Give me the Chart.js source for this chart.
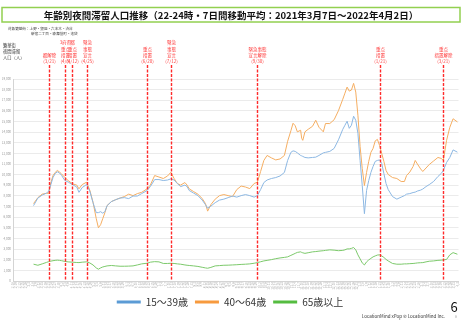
<!DOCTYPE html>
<html lang="ja">
  <head>
    <title>年齢別夜間滞留人口推移</title>
    <meta charset="utf-8">
    <script type="text/javascript" src="https://cdn.jsdelivr.net/npm/chart.js@4/dist/chart.umd.min.js"></script>
    <style>
      html, body { margin: 0; padding: 0; background: #fff; }
    </style>
  </head>
  <body>
    <canvas id="chart_pop" width="462" height="320"></canvas>

    <script type="text/javascript">

      // day 0 = 2021-03-07 (first 7-day moving average)
      const startDate = new Date(2021, 2, 7);

      const days = [
        0,4,8,12,14,16,18,20,22,24,
        26,29,32,36,40,42,45,49,52,55,
        58,60,62,64,66,68,72,76,80,84,
        88,92,96,100,105,108,112,116,120,124,
        127,130,133,136,140,142,144,148,152,156,
        159,161,164,168,172,176,180,184,188,192,
        196,200,204,207,210,213,216,220,224,228,
        232,235,238,240,242,244,247,248,249,251,
        254,258,261,264,268,270,274,278,282,286,
        288,290,292,294,296,298,300,302,304,306,
        308,310,312,314,316,318,320,322,324,326,
        328,332,336,340,343,345,348,351,353,355,
        358,360,363,366,370,374,377,379,382,385,
        388,392
      ];

      const age15to39 = [
        7090,7800,8080,8270,8440,9070,9730,10110,10270,10160,
        9920,9450,9310,9070,8840,8340,8790,9070,8460,7370,
        6430,6430,6520,6380,6520,7090,7470,7650,7800,7840,
        7750,7990,7990,8220,8510,8880,9540,9540,9450,9500,
        9610,9500,9170,8880,9020,8880,8510,8270,8030,7610,
        7180,6850,7040,7370,7610,7700,7840,7990,7890,8030,
        8130,8030,7890,8030,8600,9260,9500,9640,9730,9880,
        10210,11340,12100,12240,12190,12050,11810,11770,11720,11620,
        11580,11620,11650,11810,12050,12100,12190,12470,13280,14270,
        14650,15030,14360,14650,15500,15120,13890,11340,8980,6330,
        8510,9450,10210,10770,11250,11340,11390,11060,10110,9170,
        8600,7940,7700,7890,8030,8170,8220,8320,8360,8460,
        8550,8650,8880,9070,9360,9830,10110,10400,11150,11620,
        12330,12120
      ];

      const age40to64 = [
        7280,7840,8170,8250,8250,9260,9920,10210,10400,10250,
        10060,9730,9450,9140,9020,8670,9070,9290,8550,7420,
        5860,5010,5290,5860,6430,7090,7470,7650,7800,7940,
        8170,8030,8220,8340,8670,9020,9920,9780,9640,9880,
        10230,9640,9170,9020,9260,9020,8670,8410,8170,7750,
        7280,6570,7180,7700,8030,8130,8030,7940,8600,8930,
        8840,8690,9170,9290,10300,11340,11810,11580,11390,11480,
        11810,13140,14130,14840,14600,14030,14180,13420,13230,14030,
        14270,14550,15120,14460,14030,14810,14810,15170,16020,17100,
        17670,18240,17860,17960,18590,17770,15590,12660,10580,8980,
        10210,11250,12100,12470,13180,13320,12760,12000,11250,10400,
        10020,9730,9640,9360,9360,9920,10250,10770,11340,11010,
        10540,10300,10630,10960,11290,11620,11530,11340,13230,14460,
        15260,14960
      ];

      const age65plus = [
        1580,1480,1610,1750,1820,1870,1910,1940,1960,1940,
        1910,1840,1800,1770,1740,1730,1770,1800,1700,1510,
        1230,1110,1230,1320,1370,1420,1460,1420,1390,1390,
        1400,1420,1510,1610,1670,1770,1820,1800,1650,1650,
        1670,1650,1610,1580,1510,1480,1460,1420,1370,1290,
        1230,1200,1280,1420,1450,1480,1490,1510,1530,1560,
        1580,1610,1670,1730,1810,1890,1940,2010,2100,2170,
        2220,2270,2410,2500,2600,2690,2740,2690,2650,2600,
        2660,2740,2770,2810,2850,2880,2930,2900,2850,2880,
        2930,3020,3020,3070,3150,2930,2460,2080,1700,1510,
        1800,1980,2130,2270,2360,2440,2460,2360,2220,2030,
        1890,1650,1580,1580,1610,1610,1630,1650,1670,1700,
        1720,1730,1800,1860,1890,1940,1960,1980,2030,2460,
        2670,2520
      ];

      const seriesNames = ['15～39歳', '40～64歳', '65歳以上'];
      const seriesColors = ['#5B9BD5', '#F79A3E', '#55BC40'];   // legend
      const lineColors = ['#8DB8E3', '#F5AE62', '#7CC96B'];     // thin plot lines

      // policy events (red dashed lines)
      const eventDates = ['2021-03-21','2021-04-05','2021-04-12','2021-04-25','2021-06-20',
                          '2021-07-12','2021-09-30','2022-01-21','2022-03-21'];
      const eventLabels = [
        ['都解除', '(3/21)'],
        ['3府県', '重点', '措置', '(4/5)'],
        ['都', '重点', '措置', '(4/12)'],
        ['緊急', '事態', '宣言', '(4/25)'],
        ['重点', '措置', '(6/20)'],
        ['緊急', '事態', '宣言', '(7/12)'],
        ['緊急事態', '宣言解除', '(9/30)'],
        ['重点', '措置', '(1/21)'],
        ['重点', '措置解除', '(3/21)']
      ];

      const titleText = '年齢別夜間滞留人口推移（22-24時・7日間移動平均：2021年3月7日～2022年4月2日）';
      const areaText = ['対象繁華街：上野・銀座・六本木・渋谷', '新宿二丁目・歌舞伎町・池袋'];
      const unitText = ['繁華街', '夜間滞留', '人口（人）'];
      const footerText = 'LocationMind xPop © LocationMind Inc.';
      const pageNo = '6';

      const jp = '"Noto Sans CJK JP", "Noto Sans", sans-serif';

      function dayOf(s) {
        const p = s.split('-').map(Number);
        return Math.round((new Date(p[0], p[1] - 1, p[2]) - startDate) / 86400000);
      }
      function dayLabel(v) {
        const d = new Date(startDate.getFullYear(), startDate.getMonth(), startDate.getDate() + v);
        return (d.getMonth() + 1) + '/' + d.getDate();
      }

      const eventDays = eventDates.map(dayOf);

      const decor = {
        id: 'decor',
        afterDatasetsDraw(chart) {
          const {ctx, chartArea, scales: {x}} = chart;
          ctx.save();
          ctx.setLineDash([3, 1.5]);
          ctx.lineWidth = 1.4;
          ctx.strokeStyle = '#FF2B2B';
          ctx.fillStyle = '#FF3B3B';
          ctx.font = '4.5px ' + jp;
          ctx.textAlign = 'center';
          ctx.textBaseline = 'middle';
          eventDays.forEach((d, i) => {
            const px = Math.round(x.getPixelForValue(d)) + 0.5;
            ctx.beginPath();
            ctx.moveTo(px, 65);
            ctx.lineTo(px, chartArea.bottom);
            ctx.stroke();
            const lines = eventLabels[i];
            lines.forEach((t, j) => ctx.fillText(t, px, 61 - (lines.length - 1 - j) * 6.1));
          });
          ctx.restore();
        },
        afterDraw(chart) {
          const ctx = chart.ctx;
          ctx.save();
          // title box
          ctx.strokeStyle = '#92D050';
          ctx.lineWidth = 1.5;
          ctx.strokeRect(2, 7.5, 458, 14.5);
          ctx.fillStyle = '#111';
          ctx.font = 'bold 9.5px ' + jp;
          ctx.textAlign = 'center';
          ctx.textBaseline = 'middle';
          ctx.fillText(titleText, 231, 15);
          // target areas
          ctx.textAlign = 'left';
          ctx.fillStyle = '#444';
          ctx.font = '3.6px ' + jp;
          ctx.fillText(areaText[0], 8, 28.3);
          ctx.fillText(areaText[1], 31, 33.3);
          // unit label
          ctx.fillStyle = '#333';
          ctx.font = '4.3px ' + jp;
          unitText.forEach((t, i) => ctx.fillText(t, 3, 45 + i * 6.1));
          // footer
          ctx.textAlign = 'right';
          ctx.font = '4.5px ' + jp;
          ctx.fillText(footerText, 445, 316.5);
          ctx.textAlign = 'center';
          ctx.fillStyle = '#111';
          ctx.font = '13px ' + jp;
          ctx.fillText(pageNo, 454, 307);
          ctx.fillStyle = '#999';
          ctx.font = '3px ' + jp;
          ctx.fillText(pageNo, 456, 317);
          ctx.restore();
        }
      };

      const series = [age15to39, age40to64, age65plus];

      chart = new Chart('chart_pop', {
        type: 'line',
        data: {
          datasets: series.map((vals, i) => ({
            label: seriesNames[i],
            data: vals.map((v, k) => ({x: days[k], y: v})),
            borderColor: lineColors[i],
            backgroundColor: seriesColors[i],
            borderWidth: 1,
            pointRadius: 0,
            tension: 0
          }))
        },
        options: {
          responsive: false,
          animation: false,
          devicePixelRatio: 1,
          layout: {padding: {top: 79, left: 0, right: 2, bottom: 3}},
          plugins: {
            legend: {
              position: 'bottom',
              labels: {
                boxWidth: 24,
                boxHeight: 3,
                padding: 7,
                color: '#333',
                font: {family: jp, size: 10},
                generateLabels: chart => chart.data.datasets.map((ds, i) => ({
                  text: ds.label,
                  fillStyle: seriesColors[i],
                  strokeStyle: seriesColors[i],
                  lineWidth: 0,
                  fontColor: '#333',
                  datasetIndex: i
                }))
              }
            },
            tooltip: {enabled: false}
          },
          scales: {
            x: {
              type: 'linear',
              min: -19,
              max: 393,
              afterBuildTicks(scale) {
                const t = [];
                for (let v = -19; v <= 393; v += 3) t.push({value: v});
                scale.ticks = t;
              },
              afterFit(scale) { scale.height = 9; },
              grid: {display: false, drawTicks: false},
              border: {display: true, color: '#d4d4d4'},
              ticks: {
                autoSkip: false,
                minRotation: 90,
                maxRotation: 90,
                padding: 1,
                color: '#aaa',
                font: {family: jp, size: 3},
                callback: v => dayLabel(v)
              }
            },
            y: {
              min: 0,
              max: 19000,
              afterFit(scale) { scale.width = 13; },
              grid: {color: '#e6e6e6', lineWidth: 0.8, drawTicks: false},
              border: {display: true, color: '#d4d4d4'},
              ticks: {
                stepSize: 1000,
                padding: 2,
                color: '#999',
                font: {family: jp, size: 3}
              }
            }
          }
        },
        plugins: [decor]
      });

    </script>
  </body>
</html>
